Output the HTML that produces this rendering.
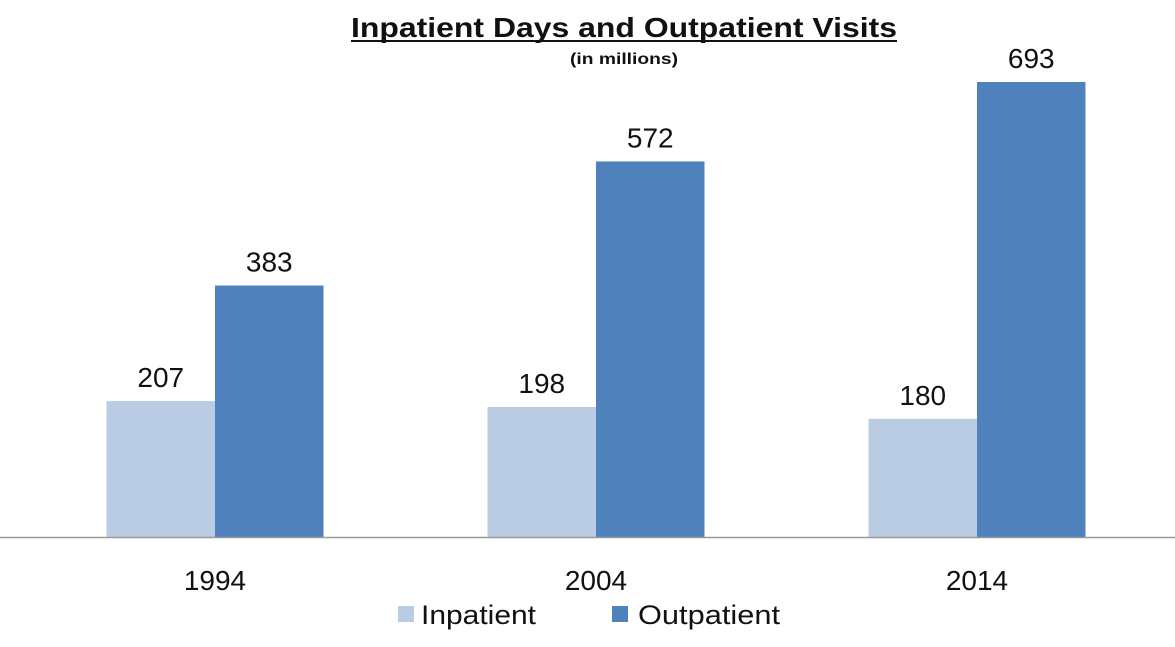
<!DOCTYPE html>
<html><head><meta charset="utf-8"><style>
body{margin:0;background:#fff;width:1175px;height:642px;overflow:hidden;font-family:"Liberation Sans",sans-serif}
</style></head><body>
<svg width="1175" height="642" xmlns="http://www.w3.org/2000/svg">
<text x="351" y="37" font-size="28" font-weight="bold" fill="#111" textLength="546" lengthAdjust="spacingAndGlyphs">Inpatient Days and Outpatient Visits</text>
<line x1="351" y1="41" x2="897" y2="41" stroke="#111" stroke-width="2"/>
<text x="570" y="64" font-size="16" font-weight="bold" fill="#111" textLength="108" lengthAdjust="spacingAndGlyphs">(in millions)</text>
<g id="bars"></g>
<line x1="0" y1="537.5" x2="1175" y2="537.5" stroke="#999" stroke-width="1.5"/>
<rect x="398" y="606" width="16" height="16" fill="#b9cce4"/>
<text x="421" y="624" font-size="27" fill="#111" textLength="115" lengthAdjust="spacingAndGlyphs">Inpatient</text>
<rect x="612" y="606" width="16" height="16" fill="#4f81bd"/>
<text x="638" y="624" font-size="27" fill="#111" textLength="142" lengthAdjust="spacingAndGlyphs">Outpatient</text>
</svg>
<script>
const categories=["1994","2004","2014"];
const inpatient=[207,198,180];
const outpatient=[383,572,693];
const base=537, scale=455/693, barW=108.5, x0=215, step=381;
const g=document.getElementById('bars');
const NS='http://www.w3.org/2000/svg';
function y(v){return base-v*scale;}
categories.forEach((c,i)=>{
  const cx=x0+i*step;
  [[inpatient[i],cx-barW,'#b9cce4','inpatient'],[outpatient[i],cx,'#4f81bd','outpatient']].forEach(([v,x,col,s])=>{
    const r=document.createElementNS(NS,'rect');
    r.setAttribute('x',x);r.setAttribute('y',y(v));r.setAttribute('width',barW);r.setAttribute('height',base-y(v));r.setAttribute('fill',col);
    
    
    g.appendChild(r);
    const t=document.createElementNS(NS,'text');
    t.setAttribute('x',x+barW/2);t.setAttribute('y',y(v)-14);t.setAttribute('text-anchor','middle');t.setAttribute('font-size','28');t.setAttribute('fill','#111');
    t.textContent=v;
    
    
    g.appendChild(t);
  });
  const l=document.createElementNS(NS,'text');
  l.setAttribute('x',cx);l.setAttribute('y',590);l.setAttribute('text-anchor','middle');l.setAttribute('font-size','28');l.setAttribute('fill','#111');
  l.textContent=c;
  
  
  g.appendChild(l);
});
</script>
</body></html>
